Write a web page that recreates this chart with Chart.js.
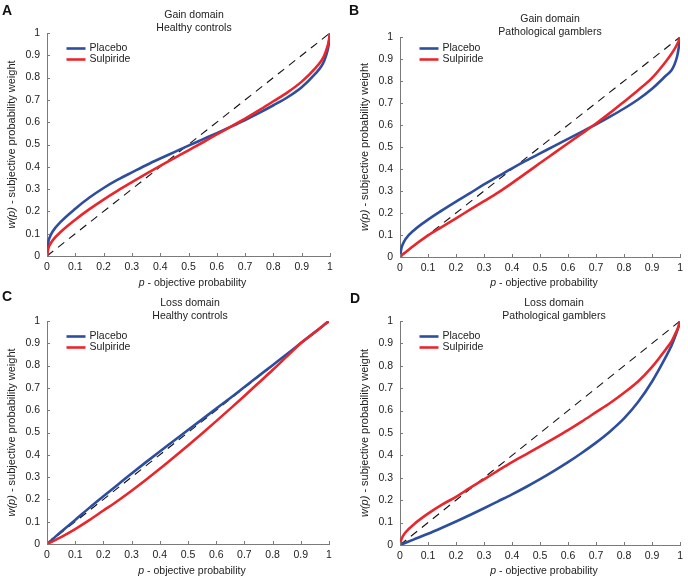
<!DOCTYPE html>
<html>
<head>
<meta charset="utf-8">
<script src="https://cdn.jsdelivr.net/npm/chart.js@4.4.1/dist/chart.umd.min.js"></script>
<style>
  html, body { margin: 0; padding: 0; background: #fff; }
  #fig { position: relative; width: 688px; height: 576px; }
  .panel { position: absolute; width: 344px; height: 288px; }
</style>
</head>
<body>
<div id="fig">
  <div class="panel" style="left:0;top:0"><canvas id="pA" width="344" height="288"></canvas></div>
  <div class="panel" style="left:344px;top:0"><canvas id="pB" width="344" height="288"></canvas></div>
  <div class="panel" style="left:0;top:288px"><canvas id="pC" width="344" height="288"></canvas></div>
  <div class="panel" style="left:344px;top:288px"><canvas id="pD" width="344" height="288"></canvas></div>
</div>
<script>
// objective probability p (shared x grid for all curves)
const probs = [0, 0.005, 0.01, 0.02, 0.05, 0.1, 0.15, 0.2, 0.25, 0.3, 0.35, 0.4, 0.45, 0.5,
  0.55, 0.6, 0.65, 0.7, 0.75, 0.8, 0.85, 0.9, 0.95, 0.97, 0.98, 0.99, 0.995, 1];

// w(p)
const gainHcPlacebo = [0, 0.065, 0.085, 0.11, 0.155, 0.212, 0.262, 0.305, 0.342, 0.375, 0.407, 0.437, 0.466, 0.495,
  0.523, 0.551, 0.58, 0.61, 0.642, 0.676, 0.712, 0.757, 0.82, 0.852, 0.877, 0.915, 0.945, 1];
const gainHcSulpiride = [0, 0.035, 0.05, 0.07, 0.11, 0.163, 0.21, 0.253, 0.293, 0.331, 0.368, 0.404, 0.439, 0.474,
  0.509, 0.545, 0.58, 0.616, 0.654, 0.694, 0.734, 0.782, 0.845, 0.877, 0.9, 0.935, 0.96, 1];

const gainPgPlacebo = [0, 0.04, 0.058, 0.082, 0.122, 0.17, 0.212, 0.252, 0.29, 0.33, 0.366, 0.403, 0.438, 0.471,
  0.504, 0.537, 0.57, 0.603, 0.638, 0.675, 0.716, 0.765, 0.825, 0.85, 0.875, 0.915, 0.95, 1];
const gainPgSulpiride = [0, 0.006, 0.012, 0.022, 0.052, 0.098, 0.137, 0.176, 0.215, 0.254, 0.293, 0.336, 0.381, 0.427,
  0.472, 0.517, 0.562, 0.607, 0.655, 0.706, 0.758, 0.814, 0.89, 0.925, 0.945, 0.968, 0.982, 1];

const lossHcPlacebo = [0, 0.005, 0.011, 0.022, 0.055, 0.108, 0.162, 0.214, 0.265, 0.316, 0.366, 0.415, 0.463, 0.511,
  0.559, 0.607, 0.655, 0.704, 0.753, 0.802, 0.851, 0.901, 0.95, 0.97, 0.98, 0.99, 0.995, 1];
const lossHcSulpiride = [0, 0.003, 0.006, 0.012, 0.031, 0.067, 0.107, 0.15, 0.193, 0.239, 0.287, 0.337, 0.389, 0.442,
  0.496, 0.551, 0.607, 0.664, 0.722, 0.78, 0.84, 0.9, 0.95, 0.97, 0.98, 0.99, 0.995, 1];

const lossPgPlacebo = [0, 0.003, 0.005, 0.01, 0.025, 0.05, 0.077, 0.105, 0.134, 0.164, 0.195, 0.226, 0.259, 0.294,
  0.331, 0.37, 0.412, 0.457, 0.507, 0.565, 0.638, 0.73, 0.842, 0.892, 0.923, 0.957, 0.977, 1];
const lossPgSulpiride = [0, 0.025, 0.038, 0.057, 0.093, 0.14, 0.18, 0.215, 0.255, 0.293, 0.332, 0.37, 0.405, 0.44,
  0.476, 0.513, 0.552, 0.593, 0.634, 0.68, 0.73, 0.795, 0.875, 0.91, 0.935, 0.962, 0.978, 1];

// identity line
const diagP = [0, 1];
const diagW = [0, 1];

const tickValues = [0, 0.1, 0.2, 0.3, 0.4, 0.5, 0.6, 0.7, 0.8, 0.9, 1];
const tickLabels = ['0', '0.1', '0.2', '0.3', '0.4', '0.5', '0.6', '0.7', '0.8', '0.9', '1'];

const seriesNames = ['Placebo', 'Sulpiride'];

const BLUE = '#2d4e9e';
const RED = '#e8262b';
const AXIS = '#7a7a7a';
const FF = '"Liberation Sans", Arial, Helvetica, sans-serif';
const FS = 10.5;

function pts(xs, ys) {
  return xs.map((x, i) => ({ x: x, y: ys[i] }));
}

function drawParts(ctx, parts, cx, cy, rot, size) {
  ctx.save();
  ctx.translate(cx, cy);
  if (rot) ctx.rotate(-Math.PI / 2);
  let total = 0;
  parts.forEach(p => {
    ctx.font = (p.it ? 'italic ' : '') + size + 'px ' + FF;
    p.w = ctx.measureText(p.t).width;
    total += p.w;
  });
  let x = -total / 2;
  ctx.textBaseline = 'middle';
  ctx.textAlign = 'left';
  ctx.fillStyle = '#222';
  parts.forEach(p => {
    ctx.font = (p.it ? 'italic ' : '') + size + 'px ' + FF;
    ctx.fillText(p.t, x, 0);
    x += p.w;
  });
  ctx.restore();
}

// letters, titles, legend, axis titles, inward ticks
const decor = {
  id: 'decor',
  afterDraw(chart, args, o) {
    const ctx = chart.ctx, ca = chart.chartArea;
    const xs = chart.scales.x, ys = chart.scales.y;
    ctx.save();
    ctx.strokeStyle = AXIS;
    ctx.lineWidth = 1;
    tickValues.forEach(v => {
      const px = Math.round(xs.getPixelForValue(v)) + 0.5;
      ctx.beginPath(); ctx.moveTo(px, ca.bottom); ctx.lineTo(px, ca.bottom - 3); ctx.stroke();
      const py = Math.round(ys.getPixelForValue(v)) + 0.5;
      ctx.beginPath(); ctx.moveTo(ca.left, py); ctx.lineTo(ca.left + 3, py); ctx.stroke();
    });

    ctx.fillStyle = '#111';
    ctx.font = 'bold 14px ' + FF;
    ctx.textAlign = 'left';
    ctx.textBaseline = 'alphabetic';
    ctx.fillText(o.letter, o.letterX, o.letterY);

    ctx.fillStyle = '#222';
    ctx.font = FS + 'px ' + FF;
    ctx.textAlign = 'center';
    ctx.textBaseline = 'middle';
    ctx.fillText(o.title[0], o.titleX, o.titleY);
    ctx.fillText(o.title[1], o.titleX, o.titleY + 13);

    // legend
    const colors = [BLUE, RED];
    const lx = ca.left + 19.5;
    seriesNames.forEach((name, i) => {
      const y = 48.5 + i * 11;
      ctx.strokeStyle = colors[i];
      ctx.lineWidth = 2.6;
      ctx.beginPath(); ctx.moveTo(lx, y); ctx.lineTo(lx + 19, y); ctx.stroke();
      ctx.fillStyle = '#222';
      ctx.textAlign = 'left';
      ctx.fillText(name, lx + 23, y);
    });
    ctx.restore();

    drawParts(ctx, [{ t: 'p', it: true }, { t: ' - objective probability' }],
      (ca.left + ca.right) / 2 + 4, 283, false, FS);
    drawParts(ctx, [{ t: 'w(p)', it: true }, { t: ' - subjective probability weight' }],
      ca.left - 35, (ca.top + ca.bottom) / 2, true, 11);
  }
};

function makePanel(id, placebo, sulpiride, area, deco) {
  const ctx = document.getElementById(id).getContext('2d');
  new Chart(ctx, {
    type: 'scatter',
    data: {
      datasets: [
        { label: seriesNames[1], data: pts(probs, sulpiride), borderColor: RED, borderWidth: 2.6,
          showLine: true, pointRadius: 0, cubicInterpolationMode: 'monotone' },
        { label: seriesNames[0], data: pts(probs, placebo), borderColor: BLUE, borderWidth: 2.6,
          showLine: true, pointRadius: 0, cubicInterpolationMode: 'monotone' },
        { label: 'identity', data: pts(diagP, diagW), borderColor: '#111', borderWidth: 1.1,
          borderDash: [8, 6], showLine: true, pointRadius: 0 }
      ]
    },
    options: {
      responsive: false,
      animation: false,
      devicePixelRatio: 1,
      layout: { padding: { left: 0, right: 344 - area.r, top: area.t, bottom: 0 } },
      plugins: { legend: { display: false }, tooltip: { enabled: false }, decor: deco },
      scales: {
        x: {
          type: 'linear', min: 0, max: 1,
          afterFit: s => { s.height = 288 - area.b; },
          afterBuildTicks: s => { s.ticks = tickValues.map(v => ({ value: v })); },
          grid: { display: false, drawTicks: false },
          border: { display: true, color: AXIS, width: 1 },
          ticks: { padding: 5, maxRotation: 0, autoSkip: false, color: '#222',
            font: { family: FF, size: FS }, callback: (v, i) => tickLabels[i] }
        },
        y: {
          type: 'linear', min: 0, max: 1,
          afterFit: s => { s.width = area.l; },
          afterBuildTicks: s => { s.ticks = tickValues.map(v => ({ value: v })); },
          grid: { display: false, drawTicks: false },
          border: { display: true, color: AXIS, width: 1 },
          ticks: { padding: 7, autoSkip: false, color: '#222',
            font: { family: FF, size: FS }, callback: (v, i) => tickLabels[i] }
        }
      }
    },
    plugins: [decor]
  });
}

makePanel('pA', gainHcPlacebo, gainHcSulpiride, { l: 47, r: 330, t: 33, b: 256 },
  { letter: 'A', letterX: 2, letterY: 15, title: ['Gain domain', 'Healthy controls'], titleX: 194, titleY: 15 });
makePanel('pB', gainPgPlacebo, gainPgSulpiride, { l: 56, r: 340, t: 37, b: 257 },
  { letter: 'B', letterX: 5, letterY: 15, title: ['Gain domain', 'Pathological gamblers'], titleX: 206, titleY: 19 });
makePanel('pC', lossHcPlacebo, lossHcSulpiride, { l: 47, r: 329, t: 33, b: 256 },
  { letter: 'C', letterX: 2, letterY: 13, title: ['Loss domain', 'Healthy controls'], titleX: 190, titleY: 15 });
makePanel('pD', lossPgPlacebo, lossPgSulpiride, { l: 56, r: 340, t: 33, b: 257 },
  { letter: 'D', letterX: 6, letterY: 15, title: ['Loss domain', 'Pathological gamblers'], titleX: 210, titleY: 15 });
</script>
</body>
</html>
